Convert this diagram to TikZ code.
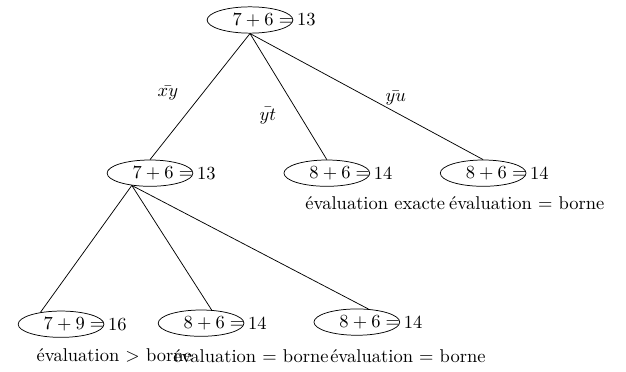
\documentclass[tikz,border=0pt]{standalone}
\usepackage{amsmath}
\usetikzlibrary{shapes.geometric}

\newcommand{\sumeq}[1]{\hspace*{7pt}$#1=$\hspace*{-7pt}}

\begin{document}
\begin{tikzpicture}[scale=1.0,
  tnode/.style={draw,ellipse,inner xsep=0pt,inner ysep=0pt,minimum height=0.5cm},
  num/.style={label distance=-1.5pt}]
\useasboundingbox (0,0) rectangle (11.894,-7.068);

\node[tnode,label={[num]right:13}] (r) at (4.75,-0.38) {\sumeq{7+6}};

\node[tnode,label={[num]right:13}] (a) at (2.85,-3.29) {\sumeq{7+6}};
\node[tnode,label={[num]right:14}] (b) at (6.21,-3.29) {\sumeq{8+6}};
\node[tnode,label={[num]right:14}] (c) at (9.18,-3.29) {\sumeq{8+6}};

\node[tnode,label={[num]right:16}] (d) at (1.16,-6.16) {\sumeq{7+9}};
\node[tnode,label={[num]right:14}] (e) at (3.82,-6.14) {\sumeq{8+6}};
\node[tnode,label={[num]right:14}] (f) at (6.78,-6.12) {\sumeq{8+6}};

\draw (r.south) -- (a.north);
\draw (r.south) -- (b.north);
\draw (r.south) -- (c.north);
\draw (a.214) -- (d.150);
\draw (a.214) -- (e.51);
\draw (a.214) -- (f.48);

\node (lxy) at (3.19,-1.77) {$\bar{xy}$};
\node (lyt) at (5.09,-2.19) {$\bar{yt}$};
\node (lyu) at (7.52,-1.86) {$\bar{yu}$};

\node (vb) at (7.13,-3.86) {évaluation exacte};
\node (vc) at (10.01,-3.86) {évaluation $=$ borne};
\node (vd) at (2.17,-6.76) {évaluation $>$ borne};
\node (ve) at (4.77,-6.76) {évaluation $=$ borne};
\node (vf) at (7.75,-6.76) {évaluation $=$ borne};
\end{tikzpicture}
\end{document}
